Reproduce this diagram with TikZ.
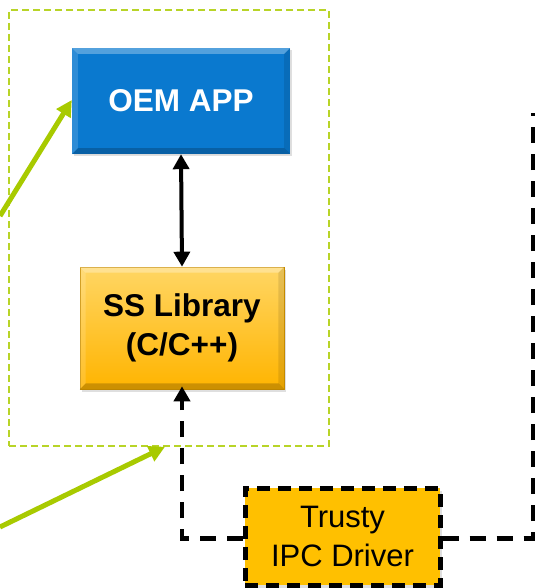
\documentclass[tikz,border=0pt]{standalone}
\usepackage{fontspec}
\setmainfont{Liberation Sans}
\usetikzlibrary{arrows.meta,calc,shadows,positioning}

\definecolor{oemblue}{RGB}{10,121,207}
\definecolor{libtop}{RGB}{255,214,100}
\definecolor{libbot}{RGB}{255,180,0}
\definecolor{ipcfill}{RGB}{255,192,0}
\definecolor{limegreen}{RGB}{168,202,0}
\definecolor{groupgreen}{RGB}{184,212,40}

\tikzset{
  boxshadow/.style={drop shadow={opacity=0.25,shadow xshift=1.5pt,shadow yshift=-2.5pt}},
  appbox/.style={rectangle, fill=oemblue, boxshadow, inner sep=0pt},
  libbox/.style={rectangle, top color=libtop, bottom color=libbot, boxshadow,
    draw=libbot!80!black, line width=0.6pt, inner sep=0pt},
  ipcbox/.style={rectangle, fill=ipcfill, draw=black, line width=5pt,
    dash pattern=on 13pt off 8pt, boxshadow,
    font=\fontsize{31}{39}\selectfont, align=center, inner sep=0pt},
  apptext/.style={text=white, font=\fontsize{31.5}{38}\selectfont\bfseries},
  libtext/.style={font=\fontsize{31.5}{39}\selectfont\bfseries, align=center},
  groupbox/.style={rectangle, draw=groupgreen, line width=1.6pt,
    dash pattern=on 7pt off 4pt, inner sep=0pt},
  solidlink/.style={line width=4pt, {Triangle[width=16pt,length=15pt]}-{Triangle[width=16pt,length=15pt]}},
  ipclink/.style={line width=4.5pt, dash pattern=on 16pt off 11pt},
  pointer/.style={draw=limegreen, line width=5pt, -{Triangle[width=16pt,length=16pt]}}
}

% soft bevel on the four edges of a node
\newcommand{\bevelbox}[2]{%
  \fill[white,opacity=0.30] (#1.north west) -- (#1.north east) -- ($(#1.north east)+(-#2,#2)$) -- ($(#1.north west)+(#2,#2)$) -- cycle;
  \fill[white,opacity=0.15] (#1.north west) -- ($(#1.north west)+(#2,#2)$) -- ($(#1.south west)+(#2,-#2)$) -- (#1.south west) -- cycle;
  \fill[black,opacity=0.10] (#1.north east) -- ($(#1.north east)+(-#2,#2)$) -- ($(#1.south east)+(-#2,-#2)$) -- (#1.south east) -- cycle;
  \fill[black,opacity=0.20] (#1.south west) -- ($(#1.south west)+(#2,-#2)$) -- ($(#1.south east)+(-#2,-#2)$) -- (#1.south east) -- cycle;
}

\begin{document}
\begin{tikzpicture}[x=1pt,y=-1pt]
  \useasboundingbox (0,0) rectangle (537,588);

  % application group
  \node[groupbox, minimum width=320pt, minimum height=436pt] (grp) at (169,228) {};

  % components
  \node[appbox, minimum width=218pt, minimum height=106pt] (oem) at (181,101) {};
  \bevelbox{oem}{6}
  \node[apptext] (oemlabel) at (oem.center) {OEM APP};

  \node[libbox, minimum width=204pt, minimum height=122pt] (lib) at (182,328) {};
  \bevelbox{lib}{6}
  \node[libtext] (liblabel) at (lib.center) {SS Library\\(C/C++)};

  \node[ipcbox, minimum width=195pt, minimum height=97pt] (ipc) at (342.5,536.5) {Trusty\\IPC Driver};

  % connectors
  \coordinate (rtop) at (533,113);
  \coordinate (g1) at (0,216);
  \coordinate (g2) at (0,527);

  \draw[solidlink] (oem.south) -- (lib.north);
  \draw[ipclink, -{Triangle[width=16pt,length=15pt]}] ([yshift=-2pt]ipc.west) -| ([yshift=3pt]lib.south);
  \draw[ipclink] ([yshift=-2pt]ipc.east) -| (rtop);

  \draw[pointer] (g1) -- ([yshift=1pt]oem.west);
  \draw[pointer] (g2) -- ([xshift=-4pt]grp.south);
\end{tikzpicture}
\end{document}
